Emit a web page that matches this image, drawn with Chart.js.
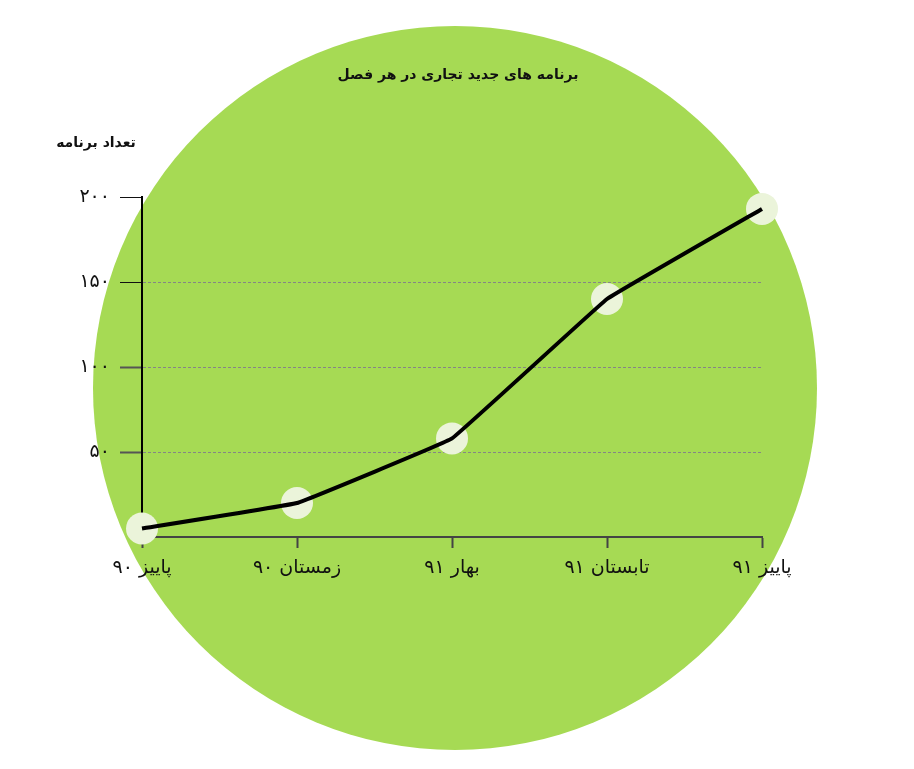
<!DOCTYPE html>
<html lang="fa">
<head>
<meta charset="utf-8">
<title>برنامه های جدید تجاری در هر فصل</title>
<script src="https://cdn.jsdelivr.net/npm/chart.js@4/dist/chart.umd.min.js"></script>
<style>
  html, body { margin: 0; padding: 0; background: #ffffff; overflow: hidden; }
  canvas { display: block; }
</style>
</head>
<body>
<canvas id="seasonChart" width="914" height="769"></canvas>
<script>
// Data
const seasons = ['پاییز ۹۰', 'زمستان ۹۰', 'بهار ۹۱', 'تابستان ۹۱', 'پاییز ۹۱'];
const programCounts = [5, 20, 58, 140, 193];
const yTickLabels = { 50: '۵۰', 100: '۱۰۰', 150: '۱۵۰', 200: '۲۰۰' };

const chartTitle = 'برنامه های جدید تجاری در هر فصل';
const yAxisTitle = 'تعداد برنامه';

const FONT = '"DejaVu Sans", "Noto Sans", sans-serif';

// Green disc behind the chart
const discPlugin = {
    id: 'disc',
    beforeDraw(chart) {
        const ctx = chart.ctx;
        ctx.save();
        ctx.fillStyle = '#a6da54';
        ctx.beginPath();
        ctx.arc(455, 388, 362, 0, Math.PI * 2);
        ctx.fill();
        ctx.restore();
    }
};

// Title and y axis caption (both horizontal)
const captionPlugin = {
    id: 'captions',
    afterDraw(chart) {
        const ctx = chart.ctx;
        ctx.save();
        ctx.fillStyle = '#111111';
        ctx.textAlign = 'center';
        ctx.textBaseline = 'middle';
        ctx.font = 'bold 14px ' + FONT;
        ctx.fillText(chartTitle, 458, 75);
        ctx.fillText(yAxisTitle, 96, 143);
        ctx.restore();
    }
};

const ctx = document.getElementById('seasonChart').getContext('2d');
const seasonChart = new Chart(ctx, {
    type: 'line',
    data: {
        labels: seasons,
        datasets: [{
            // black line, drawn on top
            data: programCounts,
            borderColor: '#000000',
            borderWidth: 4,
            tension: 0.05,
            pointRadius: 0,
            fill: false,
            clip: false,
            order: 0
        }, {
            // pale markers underneath
            data: programCounts,
            showLine: false,
            pointRadius: 16,
            pointBackgroundColor: '#ebf4da',
            pointBorderWidth: 0,
            clip: false,
            order: 1
        }]
    },
    options: {
        responsive: false,
        animation: false,
        layout: {
            padding: { top: 197, right: 152, bottom: 0, left: 0 }
        },
        plugins: {
            legend: { display: false },
            tooltip: { enabled: false },
            title: { display: false }
        },
        scales: {
            x: {
                offset: false,
                afterFit(scale) { scale.height = 232; },
                border: { color: '#444444', width: 2 },
                grid: {
                    drawOnChartArea: false,
                    tickLength: 11,
                    tickColor: '#444444',
                    tickWidth: 2
                },
                ticks: {
                    color: '#111111',
                    padding: 9,
                    maxRotation: 0,
                    font: { family: FONT, size: 19 }
                }
            },
            y: {
                min: 0,
                max: 200,
                afterFit(scale) { scale.width = 142; },
                border: { color: '#000000', width: 2, dash: [3, 2] },
                grid: {
                    color: (c) => (c.tick && (c.tick.value === 0 || c.tick.value === 200)) ? 'rgba(0,0,0,0)' : '#858585',
                    lineWidth: 1,
                    tickLength: 22,
                    tickColor: (c) => (c.tick && c.tick.value === 0) ? 'rgba(0,0,0,0)' : (c.tick && c.tick.value >= 150 ? '#111111' : '#555555'),
                    tickWidth: (c) => (c.tick && c.tick.value >= 150) ? 1 : 2,
                    tickBorderDash: []
                },
                ticks: {
                    stepSize: 50,
                    color: '#111111',
                    padding: 10,
                    font: { family: FONT, size: 19 },
                    callback: (value) => yTickLabels[value] || ''
                }
            }
        }
    },
    plugins: [discPlugin, captionPlugin]
});
</script>
</body>
</html>
